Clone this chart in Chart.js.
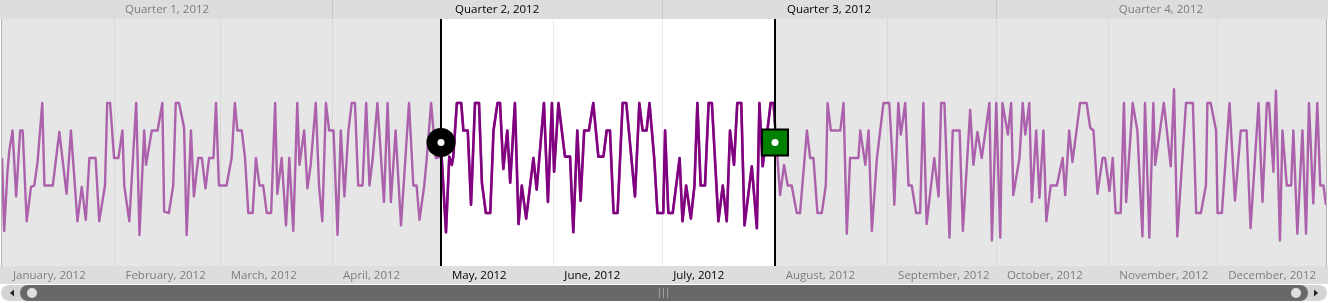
<!DOCTYPE html>
<html>
<head>
<meta charset="utf-8">
<title>2012 range selector</title>
<script src="https://cdn.jsdelivr.net/npm/chart.js@4.4.1/dist/chart.umd.min.js"></script>
<style>
  html, body { margin: 0; padding: 0; background: #fff; }
  #wrap { width: 1328px; height: 303px; }
</style>
</head>
<body>
<div id="wrap"><canvas id="range-chart" width="1328" height="303"></canvas></div>
<script>
// day of year (0 = Jan 1, 2012) for each vertex of the line, and its value
var days = [
  0, 0.6, 1.5, 2, 2.9, 3.9, 5, 5.7, 6.8, 8, 8.9, 9.8, 11.1, 11.7, 14, 15.8, 17.8, 19, 20.8, 22, 23.1, 24.1, 25.8, 26.8, 28.4, 29, 29.8, 30.9, 32.1, 33.2, 33.7, 35.1, 37, 37.9, 39.2, 39.7, 41.3, 42.9, 44.2, 44.7, 46, 47.2, 47.9, 48.8, 50.2, 50.9, 52.1, 52.9, 54.1, 55.1, 56.1, 57.1, 58.3, 59, 59.8,
  61.9, 63.3, 64.2, 64.9, 66.1, 67, 67.9, 69.1, 70, 71, 72, 73, 74.2, 75.3, 75.9, 77.1, 78.3, 79.2, 80.3, 81.4, 82, 83.3, 84.2, 85.1, 86.5, 87.4, 88.3, 89.3, 90.2, 91.4, 92.5, 93.4, 94.4, 95.5, 96.4, 97.3, 98.2, 99.4, 100.4, 101.3, 102.2, 103.5, 105.3, 106.3, 107.2, 108.5, 110, 112.2, 113.4, 114.3, 115.1, 116.4, 117.1, 118.3, 119.6,
  121.2, 122.4, 123.3, 124, 124.4, 125.4, 126.6, 127.2, 128.4, 129.3, 130.4, 131.5, 132.3, 133.4, 134.6, 135.5, 136.6, 137.3, 138.2, 139.3, 140.1, 141.4, 142.4, 143.3, 144.5, 146.5, 147.4, 149.4, 150.5, 151.6, 152.2, 153.4, 155.2, 156.6, 157.5, 158.6, 159.5, 160.5, 161.8, 163, 164.4, 165.8, 166.7, 167.6, 168.6, 169.7, 171.1, 172.1, 174.5, 175.7, 176.6, 177.7, 178.5, 179.8, 180.7, 182.3,
  182.8, 183.7, 184.9, 186.8, 187.6, 188.6, 189.9, 190.9, 191.7, 192.6, 193.8, 194.8, 195.7, 197.5, 198.7, 199.8, 200.7, 201.8, 202.7, 203.8, 204.7, 206.7, 208.1, 208.8, 209.7, 211, 211.9, 212.7, 214.5, 215.6, 216.6, 217.7, 219.1, 220, 221.9, 222.8, 223.7, 224.8, 226, 227.1, 227.6, 228.5, 231.1, 232, 232.9, 233.8, 236.1, 236.6, 238, 238.9, 239.8, 241.2,
  243, 244.6, 245.6, 246, 247.1, 247.8, 249, 249.9, 250.8, 252, 253.1, 254, 254.9, 257, 258.2, 258.9, 259.8, 261.2, 262.1, 264, 264.9, 266.9, 267.8, 268.9, 270.1, 272.2, 272.9, 274.1, 275.2, 275.8, 277.3, 278.2, 278.8, 280.5, 281.4, 282.1, 283.2, 283.9, 285.1, 286, 287.1, 287.9, 289.1, 290.8, 292.4, 293.1, 294.2, 295.1, 297.2, 299, 300, 300.9, 302, 303.4,
  304.1, 305.3, 306.2, 307, 308.4, 309.3, 309.9, 311.7, 313, 314.4, 315.1, 316.3, 317.4, 317.9, 320.3, 322.2, 323.1, 324, 326.4, 328.3, 329.2, 330.5, 331.9, 332.3, 333.2, 334.7, 335.1, 336.3, 338.4, 339.9, 341.5, 343.1, 344.2, 346.4, 347.5, 348.7, 349.3, 350.5, 351.2, 352.3, 353, 354.2, 355.4, 356, 357.1, 358.5, 359.5, 360.3, 361.5, 362.6, 363.4, 364.3, 365
];
var values = [
  60, 7, 50, 65, 80, 32, 80, 80, 14, 39, 40, 57, 100, 40, 40, 79, 34, 80, 14, 39, 15, 60, 60, 14, 40, 100, 100, 60, 60, 80, 40, 14, 100, 4, 80, 55, 80, 80, 100, 21, 20, 40, 100, 100, 82, 4, 80, 32, 60, 60, 38, 60, 60, 100, 40,
  40, 60, 100, 80, 80, 60, 20, 20, 60, 40, 40, 20, 20, 100, 34, 60, 11, 60, 7, 100, 55, 80, 38, 55, 100, 40, 14, 100, 80, 80, 4, 80, 32, 80, 100, 100, 40, 40, 100, 40, 60, 100, 28, 100, 28, 80, 11, 100, 40, 40, 15, 40, 60, 100, 60,
  61, 6, 61, 55, 61, 100, 100, 80, 80, 26, 100, 100, 42, 20, 20, 80, 100, 100, 52, 80, 42, 100, 12, 40, 16, 60, 37, 100, 28, 100, 50, 100, 61, 61, 6, 80, 29, 80, 80, 100, 61, 61, 80, 80, 20, 20, 100, 100, 32, 100, 80, 80, 100, 60, 20, 20,
  80, 20, 20, 60, 14, 40, 16, 40, 100, 40, 40, 100, 100, 14, 40, 14, 80, 55, 100, 100, 11, 54, 9, 100, 54, 80, 100, 100, 33, 55, 40, 40, 20, 20, 80, 60, 60, 20, 20, 40, 100, 80, 80, 100, 5, 60, 60, 80, 55, 80, 7, 60,
  100, 100, 55, 26, 100, 77, 100, 40, 40, 20, 20, 100, 12, 60, 32, 100, 100, 2, 80, 80, 7, 95, 55, 79, 60, 100, 0, 100, 2, 100, 77, 100, 33, 60, 100, 77, 100, 28, 80, 31, 80, 14, 40, 40, 60, 33, 80, 57, 100, 100, 82, 80, 34, 60,
  60, 36, 60, 20, 20, 100, 28, 100, 80, 3, 100, 2, 100, 55, 100, 54, 110, 3, 100, 100, 20, 20, 40, 100, 100, 80, 20, 20, 100, 29, 80, 80, 9, 100, 28, 100, 100, 50, 109, 0, 80, 40, 40, 80, 5, 80, 5, 100, 27, 100, 40, 40, 26
];

var monthStarts = [0, 31, 60, 91, 121, 152, 182, 213, 244, 274, 305, 335];
var monthLabels = ['January, 2012', 'February, 2012', 'March, 2012', 'April, 2012', 'May, 2012', 'June, 2012',
  'July, 2012', 'August, 2012', 'September, 2012', 'October, 2012', 'November, 2012', 'December, 2012'];
var quarterStarts = [0, 91, 182, 274];
var quarterLabels = ['Quarter 1, 2012', 'Quarter 2, 2012', 'Quarter 3, 2012', 'Quarter 4, 2012'];
var yearEnd = 366;
var selection = [121, 213]; // May 1 .. Aug 1

if (days.length !== values.length) console.error('days/values length mismatch', days.length, values.length);

var points = days.map(function(d, i) { return { x: d, y: values[i] }; });

var LABEL_FONT = '11.5px "Open Sans"';
var GRAY_TEXT = '#7d7d7d';

function roundRect(ctx, x, y, w, h, r) {
    ctx.beginPath();
    ctx.moveTo(x + r, y);
    ctx.lineTo(x + w - r, y);
    ctx.arc(x + w - r, y + r, r, -Math.PI / 2, Math.PI / 2);
    ctx.lineTo(x + r, y + h);
    ctx.arc(x + r, y + r, r, Math.PI / 2, Math.PI * 1.5);
    ctx.closePath();
}

function overlaps(a, b) {
    return a < selection[1] && b > selection[0];
}

var decorPlugin = {
    id: 'rangeDecor',

    beforeDatasetsDraw: function(chart) {
        var ctx = chart.ctx, a = chart.chartArea, xs = chart.scales.x;
        var s0 = xs.getPixelForValue(selection[0]);
        var s1 = xs.getPixelForValue(selection[1]);
        var plotH = a.bottom - a.top;

        ctx.save();

        // header / footer bands
        ctx.fillStyle = '#dddddd';
        ctx.fillRect(0, 0, chart.width, a.top);
        ctx.fillRect(0, a.bottom, chart.width, 18);

        // plot background, selected range in white
        ctx.fillStyle = '#e6e6e6';
        ctx.fillRect(a.left, a.top, a.right - a.left, plotH);
        ctx.fillStyle = '#ffffff';
        ctx.fillRect(s0, a.top, s1 - s0, plotH);

        // plot borders
        ctx.fillStyle = '#b4b4b4';
        ctx.fillRect(a.left - 1, a.top, 1, plotH);
        ctx.fillRect(a.right, a.top, 1, plotH);

        // month grid lines
        monthStarts.forEach(function(d, i) {
            if (i === 0) return;
            var px = Math.round(xs.getPixelForValue(d));
            ctx.fillStyle = (px > s0 && px < s1) ? '#ececec' : '#d9d9d9';
            ctx.fillRect(px, a.top, 1, plotH);
        });

        // quarter dividers in header
        ctx.fillStyle = '#c8c8c8';
        quarterStarts.forEach(function(d, i) {
            if (i === 0) return;
            ctx.fillRect(Math.round(xs.getPixelForValue(d)), 0, 1, a.top);
        });

        ctx.font = LABEL_FONT;
        ctx.textBaseline = 'middle';

        // quarter labels
        ctx.textAlign = 'center';
        quarterStarts.forEach(function(d, i) {
            var end = i < quarterStarts.length - 1 ? quarterStarts[i + 1] : yearEnd;
            var x0 = xs.getPixelForValue(d);
            var x1 = Math.min(xs.getPixelForValue(end), a.right);
            ctx.fillStyle = overlaps(d, end) ? '#000000' : GRAY_TEXT;
            ctx.fillText(quarterLabels[i], (x0 + x1) / 2, a.top / 2);
        });

        // month labels
        ctx.textAlign = 'left';
        monthStarts.forEach(function(d, i) {
            var end = i < monthStarts.length - 1 ? monthStarts[i + 1] : yearEnd;
            ctx.fillStyle = overlaps(d, end) ? '#000000' : GRAY_TEXT;
            ctx.fillText(monthLabels[i], xs.getPixelForValue(d) + 11, a.bottom + 9.5);
        });

        ctx.restore();
    },

    // dark line only inside the selected range
    beforeDatasetDraw: function(chart, args) {
        if (args.index !== 1) return;
        var a = chart.chartArea, xs = chart.scales.x;
        var s0 = xs.getPixelForValue(selection[0]);
        var s1 = xs.getPixelForValue(selection[1]);
        chart.ctx.save();
        chart.ctx.beginPath();
        chart.ctx.rect(s0, a.top, s1 - s0, a.bottom - a.top);
        chart.ctx.clip();
    },
    afterDatasetDraw: function(chart, args) {
        if (args.index === 1) chart.ctx.restore();
    },

    afterDatasetsDraw: function(chart) {
        var ctx = chart.ctx, a = chart.chartArea, xs = chart.scales.x;
        var s0 = Math.round(xs.getPixelForValue(selection[0]));
        var s1 = Math.round(xs.getPixelForValue(selection[1]));
        var cy = (a.top + a.bottom) / 2;

        ctx.save();
        ctx.fillStyle = '#000000';
        ctx.fillRect(s0 - 1, a.top, 2, a.bottom - a.top);
        ctx.fillRect(s1 - 1, a.top, 2, a.bottom - a.top);

        // left thumb: black circle
        ctx.beginPath();
        ctx.arc(s0, cy, 14.5, 0, Math.PI * 2);
        ctx.fill();
        ctx.fillStyle = '#ffffff';
        ctx.beginPath();
        ctx.arc(s0, cy, 3.5, 0, Math.PI * 2);
        ctx.fill();

        // right thumb: green square
        ctx.fillStyle = '#000000';
        ctx.fillRect(s1 - 14, cy - 14, 28, 28);
        ctx.fillStyle = '#008000';
        ctx.fillRect(s1 - 12, cy - 12, 24, 24);
        ctx.fillStyle = '#ffffff';
        ctx.beginPath();
        ctx.arc(s1, cy, 3.5, 0, Math.PI * 2);
        ctx.fill();

        // scrollbar
        var sy = a.bottom + 19, sh = 16, mid = sy + sh / 2;
        ctx.fillStyle = '#d4d4d4';
        roundRect(ctx, 1, sy, chart.width - 2, sh, 8);
        ctx.fill();
        ctx.fillStyle = '#686868';
        roundRect(ctx, 20, sy, chart.width - 40, sh, 8);
        ctx.fill();

        ctx.fillStyle = '#dedede';
        ctx.beginPath();
        ctx.arc(32, mid, 5, 0, Math.PI * 2);
        ctx.fill();
        ctx.beginPath();
        ctx.arc(chart.width - 32, mid, 5, 0, Math.PI * 2);
        ctx.fill();

        ctx.fillStyle = '#222222';
        ctx.beginPath();
        ctx.moveTo(10, mid);
        ctx.lineTo(14, mid - 3.5);
        ctx.lineTo(14, mid + 3.5);
        ctx.closePath();
        ctx.fill();
        ctx.beginPath();
        ctx.moveTo(chart.width - 10, mid);
        ctx.lineTo(chart.width - 14, mid - 3.5);
        ctx.lineTo(chart.width - 14, mid + 3.5);
        ctx.closePath();
        ctx.fill();

        // grip in the middle of the thumb
        ctx.fillStyle = '#a0a0a0';
        var gx = Math.round(chart.width / 2);
        [-5, -1, 3].forEach(function(o) {
            ctx.fillRect(gx + o, sy + 3, 1, sh - 6);
        });

        ctx.restore();
    }
};

var ctx = document.getElementById('range-chart').getContext('2d');

var chart = new Chart(ctx, {
    type: 'line',
    data: {
        datasets: [{
            label: 'Series',
            data: points,
            borderColor: 'rgba(128, 0, 128, 0.58)',
            borderWidth: 2.4,
            borderJoinStyle: 'round',
            pointRadius: 0,
            tension: 0,
            fill: false
        }, {
            label: 'Selected',
            data: points,
            borderColor: '#800080',
            borderWidth: 2.6,
            borderJoinStyle: 'round',
            pointRadius: 0,
            tension: 0,
            fill: false
        }]
    },
    options: {
        responsive: false,
        animation: false,
        devicePixelRatio: 1,
        layout: {
            padding: { left: 2, right: 2, top: 19, bottom: 37 }
        },
        plugins: {
            legend: { display: false },
            tooltip: { enabled: false }
        },
        scales: {
            x: { type: 'linear', min: 0, max: 365, display: false },
            y: { type: 'linear', min: -18.5, max: 161.1, display: false }
        },
        events: []
    },
    plugins: [decorPlugin]
});
</script>
</body>
</html>
